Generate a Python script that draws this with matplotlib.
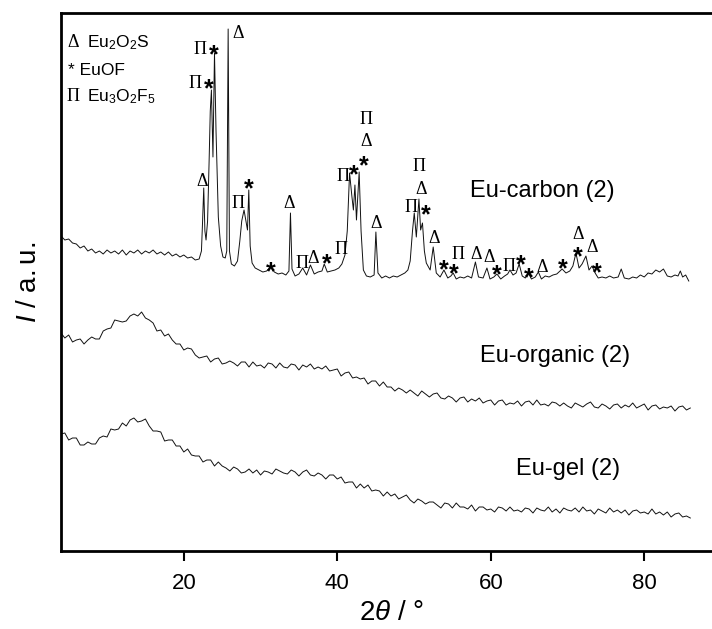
import matplotlib
matplotlib.use("Agg")
import matplotlib.pyplot as plt

plt.rcParams['font.family'] = ['Liberation Sans', 'DejaVu Sans']
plt.rcParams['mathtext.fontset'] = 'custom'
plt.rcParams['mathtext.rm'] = 'Liberation Sans'
plt.rcParams['mathtext.it'] = 'Liberation Sans:italic'
plt.rcParams['mathtext.default'] = 'regular'

# ---------------- data (2theta in degrees, intensity in a.u.) ----------------
carbon_2theta = [4.0, 4.5, 5.0, 5.5, 6.0, 6.5, 7.0, 7.5, 8.0, 8.5, 9.0, 9.5, 10.0, 10.5, 11.0, 11.5,
                 12.0, 12.5, 13.0, 13.5, 14.0, 14.5, 15.0, 15.5, 16.0, 16.5, 17.0, 17.5, 18.0, 18.5,
                 19.0, 19.5, 20.0, 20.5, 21.0, 21.5, 22.0, 22.3, 22.45, 22.6, 22.75, 22.9, 23.1, 23.3,
                 23.45, 23.6, 23.8, 24.0, 24.2, 24.5, 24.8, 25.1, 25.4, 25.6, 25.78, 25.95, 26.2, 26.6,
                 27.0, 27.3, 27.55, 27.85, 28.1, 28.3, 28.47, 28.65, 28.9, 29.3, 29.8, 30.3, 30.8, 31.3,
                 31.8, 32.3, 32.8, 33.3, 33.7, 33.9, 34.1, 34.5, 35.0, 35.5, 36.0, 36.5, 37.0, 37.5,
                 38.0, 38.3, 38.7, 39.2, 39.7, 40.2, 40.6, 41.0, 41.3, 41.6, 41.9, 42.1, 42.3, 42.5,
                 42.85, 43.1, 43.4, 43.8, 44.3, 44.8, 45.03, 45.3, 45.8, 46.3, 46.8, 47.3, 47.8, 48.3,
                 48.8, 49.2, 49.5, 49.8, 50.03, 50.3, 50.64, 50.86, 51.1, 51.35, 51.6, 52.1, 52.5, 52.9,
                 53.4, 53.9, 54.4, 54.8, 55.1, 55.5, 56.0, 56.5, 57.0, 57.5, 58.0, 58.4, 59.0, 59.5,
                 59.9, 60.4, 60.8, 61.3, 61.8, 62.2, 62.5, 62.9, 63.3, 63.7, 64.1, 64.5, 64.9, 65.3,
                 65.8, 66.2, 66.6, 67.1, 67.6, 68.1, 68.6, 69.3, 69.8, 70.3, 70.7, 71.1, 71.5, 71.9,
                 72.4, 72.8, 73.2, 73.6, 74.0, 74.5, 75.0, 75.5, 76.0, 76.6, 77.0, 77.4, 78.0, 78.5,
                 79.0, 79.5, 80.0, 80.5, 81.0, 81.5, 82.0, 82.5, 83.0, 83.5, 84.0, 84.4, 84.7, 85.0,
                 85.4, 85.8]
carbon_int = [315, 311, 312, 308, 307, 303, 305, 300, 302, 298, 300, 297, 301, 298, 300, 297,
              301, 296, 300, 298, 301, 297, 300, 298, 301, 297, 299, 296, 299, 295,
              297, 294, 296, 293, 294, 291, 292, 300, 330, 363, 320, 311, 330, 390,
              440, 461, 394, 498, 420, 334, 305, 294, 293, 300, 522, 300, 287, 285,
              290, 310, 330, 341, 330, 321, 361, 305, 288, 283, 281, 279, 280, 284,
              279, 277, 278, 276, 280, 338, 282, 275, 277, 283, 276, 286, 277, 279,
              280, 287, 279, 280, 281, 283, 287, 296, 320, 378, 355, 341, 366, 331,
              379, 320, 281, 275, 274, 276, 319, 278, 273, 275, 273, 275, 274, 276,
              278, 281, 290, 320, 338, 314, 352, 321, 328, 300, 288, 281, 304, 278,
              274, 281, 273, 275, 278, 272, 274, 273, 275, 273, 289, 274, 273, 283,
              272, 274, 277, 272, 275, 277, 281, 276, 278, 287, 275, 273, 278, 272,
              274, 279, 272, 275, 274, 276, 277, 282, 278, 280, 285, 298, 283, 287,
              295, 281, 285, 278, 273, 274, 273, 275, 273, 274, 282, 273, 272, 274,
              273, 276, 274, 278, 277, 281, 279, 282, 275, 274, 276, 275, 280, 274,
              276, 270]

# Eu-organic and Eu-gel are sampled every 0.5 degree from 4.0 to 86.0
amorph_2theta = [4.0 + 0.5 * i for i in range(165)]
organic_int = [218, 213, 216, 209, 211, 212, 207, 211, 214, 212,
               212, 220, 222, 223, 231, 230, 229, 230, 235, 237,
               235, 239, 233, 231, 228, 220, 221, 215, 217, 211,
               207, 207, 201, 203, 202, 196, 193, 194, 195, 189,
               192, 193, 187, 188, 190, 188, 185, 189, 189, 184,
               189, 185, 186, 183, 188, 187, 183, 188, 184, 183,
               187, 186, 181, 186, 184, 187, 182, 184, 182, 185,
               180, 181, 182, 175, 178, 179, 173, 174, 172, 173,
               167, 170, 170, 165, 169, 164, 164, 160, 163, 161,
               158, 161, 158, 155, 160, 157, 154, 157, 158, 153,
               152, 155, 153, 149, 153, 154, 149, 152, 150, 153,
               148, 150, 151, 146, 150, 151, 146, 148, 147, 150,
               145, 149, 150, 146, 151, 146, 147, 145, 149, 148,
               145, 148, 145, 143, 148, 146, 144, 147, 149, 144,
               143, 147, 145, 142, 146, 147, 143, 146, 144, 148,
               143, 145, 147, 141, 145, 146, 142, 144, 143, 145,
               140, 144, 145, 141, 143]
gel_int = [117, 118, 111, 113, 113, 106, 106, 109, 107, 107,
           113, 115, 114, 122, 121, 122, 128, 125, 131, 133,
           129, 130, 132, 125, 120, 120, 119, 110, 111, 111,
           105, 105, 99, 102, 96, 95, 95, 89, 91, 91,
           85, 89, 85, 83, 80, 84, 82, 78, 79, 82,
           78, 81, 76, 80, 79, 77, 82, 80, 78, 77,
           81, 79, 75, 79, 81, 76, 75, 78, 76, 72,
           76, 76, 72, 74, 68, 69, 69, 63, 67, 63,
           66, 60, 61, 60, 55, 59, 55, 57, 52, 54,
           56, 51, 48, 52, 50, 47, 49, 49, 46, 43,
           48, 47, 43, 48, 44, 44, 42, 46, 40, 44,
           44, 41, 42, 39, 44, 43, 40, 44, 40, 41,
           39, 43, 42, 38, 43, 41, 40, 44, 39, 42,
           38, 43, 41, 40, 43, 39, 44, 40, 41, 37,
           42, 40, 38, 43, 39, 41, 38, 41, 36, 40,
           41, 38, 39, 37, 42, 37, 39, 36, 39, 34,
           37, 38, 34, 35, 33]

sample_names = ["Eu-carbon (2)", "Eu-organic (2)", "Eu-gel (2)"]
legend_symbols = ["\u0394", "*", "\u03A0"]
legend_phases = ["Eu$_2$O$_2$S", "EuOF", "Eu$_3$O$_2$F$_5$"]
xticks = [20, 40, 60, 80]

# phase markers above the Eu-carbon peaks: (symbol, 2theta, height)
marker_symbols = ["\u03A0", "*", "\u03A0", "*", "\u0394", "\u0394", "\u03A0", "*", "*", "\u0394",
                  "\u03A0", "\u0394", "*", "\u03A0", "\u03A0", "*", "*", "\u0394", "\u03A0", "\u0394",
                  "\u03A0", "\u0394", "\u03A0", "*", "\u0394", "*", "\u03A0", "*", "\u0394", "\u0394",
                  "*", "\u03A0", "*", "*", "\u0394", "*", "\u0394", "*", "\u0394", "*"]
marker_2theta = [22.09, 23.91, 21.43, 23.26, 27.04, 22.35, 27.04, 28.47, 31.34, 33.69,
                 35.38, 36.82, 38.64, 40.47, 40.73, 42.16, 43.47, 43.73, 43.73, 45.03,
                 50.64, 50.90, 49.60, 51.55, 52.59, 53.90, 55.72, 55.20, 58.07, 59.77,
                 60.81, 62.40, 63.85, 64.98, 66.68, 69.41, 71.37, 71.37, 73.19, 73.85]
marker_height = [503, 503, 469, 469, 519, 371, 349, 369, 286, 349,
                 289, 294, 294, 303, 376, 383, 392, 411, 433, 329,
                 386, 363, 345, 343, 314, 288, 298, 284, 298, 295,
                 283, 286, 293, 280, 285, 289, 318, 301, 305, 285]

# ---------------- figure ----------------
fig = plt.figure(figsize=(7.12, 6.29), dpi=100)
ax = fig.add_axes([61 / 712, 78 / 629, 660 / 712, 538 / 629])

lc = '#111111'
ax.plot(carbon_2theta, carbon_int, color=lc, lw=0.7)
ax.plot(amorph_2theta, organic_int, color=lc, lw=0.7)
ax.plot(amorph_2theta, gel_int, color=lc, lw=0.7)

ax.set_xlim(4, 90)
ax.set_ylim(0, 538)
ax.set_xticks(xticks)
ax.set_xticklabels([str(t) for t in xticks])
ax.set_yticks([])
for s in ax.spines.values():
    s.set_linewidth(2.0)
ax.tick_params(axis='x', direction='out', length=7, width=1.5, labelsize=16, pad=9)

ax.set_xlabel("$\\mathrm{2}\\mathit{\\theta}\\ \\mathrm{/\\ \u00b0}$", fontsize=20, labelpad=4)
ax.set_ylabel("$\\mathit{I}\\ \\mathrm{/\\ a.u.}$", fontsize=20, labelpad=14)

# phase markers
for sym, xx, yy in zip(marker_symbols, marker_2theta, marker_height):
    if sym == "*":
        ax.text(xx, yy - 14, sym, fontsize=18, fontweight='bold', ha='center', va='baseline',
                family='Liberation Sans', color='black')
    else:
        ax.text(xx, yy - 6, sym, fontsize=13, ha='center', va='baseline',
                family='Liberation Serif', color='black')

# legend of phases (top-left)
leg_y = [0.937, 0.885, 0.836]
for sym, ph, yy in zip(legend_symbols, legend_phases, leg_y):
    if sym == "*":
        ax.text(0.011, yy, "* " + ph, transform=ax.transAxes, fontsize=12.5, va='baseline', ha='left')
    else:
        ax.text(0.009, yy, sym, transform=ax.transAxes, fontsize=13, va='baseline', ha='left',
                family='Liberation Serif')
        ax.text(0.039, yy, ph, transform=ax.transAxes, fontsize=12.5, va='baseline', ha='left')

# sample names
ax.text(57.3, 354, sample_names[0], fontsize=17, ha='left', va='baseline')
ax.text(58.6, 189, sample_names[1], fontsize=17, ha='left', va='baseline')
ax.text(63.3, 76, sample_names[2], fontsize=17, ha='left', va='baseline')

fig.savefig("out.png", dpi=100)
